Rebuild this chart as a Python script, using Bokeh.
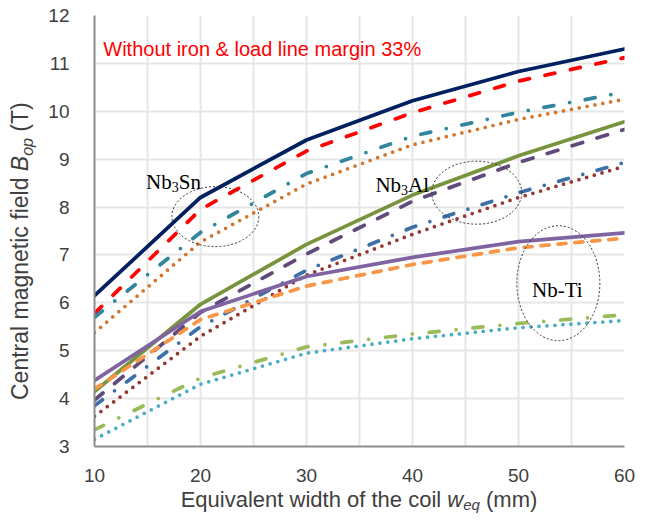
from bokeh.plotting import figure
from bokeh.models import Range1d, FixedTicker, Label, Div
from bokeh.layouts import row, column
from bokeh.embed import file_html
from bokeh.resources import INLINE

# ---------------- data ----------------
width_mm = [10, 20, 30, 40, 50, 60]

nb3sn_1 = [6.15, 8.20, 9.40, 10.22, 10.83, 11.30]
nb3sn_2 = [5.78, 7.95, 9.17, 9.97, 10.63, 11.12]
nb3sn_3 = [5.70, 7.47, 8.70, 9.48, 9.98, 10.40]
nb3sn_4 = [5.38, 7.27, 8.48, 9.30, 9.83, 10.25]

nb3al_1 = [4.15, 5.97, 7.22, 8.25, 9.07, 9.78]
nb3al_2 = [3.97, 5.80, 7.02, 8.12, 8.93, 9.62]
nb3al_3 = [3.85, 5.50, 6.68, 7.58, 8.30, 8.93]
nb3al_4 = [3.63, 5.30, 6.58, 7.43, 8.20, 8.85]

nbti_1 = [4.38, 5.82, 6.55, 6.95, 7.28, 7.46]
nbti_2 = [4.20, 5.65, 6.35, 6.80, 7.15, 7.35]
nbti_3 = [3.35, 4.43, 5.08, 5.35, 5.57, 5.75]
nbti_4 = [3.15, 4.30, 4.95, 5.25, 5.48, 5.63]

x_ticks = [10, 20, 30, 40, 50, 60]
x_minor = [15, 25, 35, 45, 55]
y_ticks = [3, 4, 5, 6, 7, 8, 9, 10, 11, 12]

# ---------------- figure ----------------
SANS = "Liberation Sans"
SERIF = "Liberation Serif"
TXT = "#404040"

p = figure(width=591, height=484, x_range=Range1d(10, 60), y_range=Range1d(3, 12),
           output_backend="svg", toolbar_location=None,
           min_border_left=50, min_border_right=11, min_border_top=15, min_border_bottom=37)
p.outline_line_color = None
p.background_fill_color = "white"
p.border_fill_color = "white"

p.xaxis.ticker = FixedTicker(ticks=x_ticks, minor_ticks=x_minor)
p.yaxis.ticker = FixedTicker(ticks=y_ticks)
for ax in (p.xaxis, p.yaxis):
    ax.axis_line_color = "#8C8C8C"
    ax.axis_line_width = 2
    ax.major_tick_line_color = None
    ax.minor_tick_line_color = None
    ax.major_label_text_font = SANS
    ax.major_label_text_font_size = "19px"
    ax.major_label_text_color = TXT
p.xaxis.major_label_standoff = 16
p.yaxis.major_label_standoff = 19

for g in (p.xgrid, p.ygrid):
    g.grid_line_color = "#E6E6E6"
    g.grid_line_width = 2
p.xgrid.minor_grid_line_color = "#E6E6E6"
p.xgrid.minor_grid_line_width = 2

series = [
    (nb3sn_1, "#002060", "solid"),
    (nb3sn_2, "#FF0000", "10 16"),
    (nb3sn_3, "#31859C", "10 16 0 16"),
    (nb3sn_4, "#D2772F", "0 8"),
    (nb3al_1, "#77933C", "solid"),
    (nb3al_2, "#604A7B", "11 15"),
    (nb3al_3, "#3D6FA8", "10 15 0 15"),
    (nb3al_4, "#953735", "0 8"),
    (nbti_1, "#8064A2", "solid"),
    (nbti_2, "#F79646", "8 9"),
    (nbti_3, "#9BBB59", "10 17 0 17"),
    (nbti_4, "#4BACC6", "0 8"),
]
for vals, col, dash in series:
    p.line(width_mm, vals, line_color=col, line_width=3.75, line_dash=dash,
           line_cap="round", line_join="round")

# ---------------- annotations ----------------
ell_x = [21.4, 46.06, 53.76]
ell_y = [7.80, 8.30, 6.41]
ell_w = [87, 90, 83]
ell_h = [60, 63, 115]
p.ellipse(x=ell_x, y=ell_y, width=ell_w, height=ell_h, width_units="screen",
          height_units="screen", fill_color=None, line_color="#333333",
          line_width=1, line_dash="2 2")


def add_pieces(x, y, pieces, color="black"):
    for text, font, size, dx, dy in pieces:
        p.add_layout(Label(x=x, y=y, text=text, text_font=font, text_font_size=size,
                           x_offset=dx, y_offset=dy, text_align="left",
                           text_baseline="alphabetic", text_color=color))


add_pieces(10.83, 11.31, [("Without iron & load line margin 33%", SANS, "20px", 0, 0)],
           color="#FF0000")
add_pieces(14.86, 8.53, [("Nb", SERIF, "21px", 0, 0),
                         ("3", SERIF, "14px", 25.7, -5),
                         ("Sn", SERIF, "21px", 32.7, 0)])
add_pieces(36.5, 8.47, [("Nb", SERIF, "21px", 0, 0),
                        ("3", SERIF, "14px", 25.7, -5),
                        ("Al", SERIF, "21px", 32.7, 0)])
add_pieces(51.28, 6.26, [("Nb-Ti", SERIF, "21px", 0, 0)])

# ---------------- axis titles (rich text) ----------------
ytitle_html = (
    '<div style="position:relative;width:44px;height:484px;">'
    '<div style="position:absolute;left:7px;top:400px;transform-origin:0 0;'
    'transform:rotate(-90deg);white-space:nowrap;font-family:\'Liberation Sans\';'
    'font-size:23px;line-height:26px;color:#404040;">'
    'Central magnetic field <i>B</i><span style="font-style:italic;font-size:16px;'
    'position:relative;top:5px;">op</span> (T)</div></div>'
)
xtitle_html = (
    '<div style="position:relative;width:635px;height:27px;">'
    '<div style="position:absolute;left:0px;width:718px;top:5px;text-align:center;'
    'white-space:nowrap;font-family:\'Liberation Sans\';font-size:22px;line-height:22px;'
    'color:#404040;">'
    'Equivalent width of the coil <i>w</i><span style="font-style:italic;font-size:15px;'
    'position:relative;top:3px;">eq</span> (mm)</div></div>'
)
ydiv = Div(text=ytitle_html, width=44, height=484, margin=0)
xdiv = Div(text=xtitle_html, width=635, height=27, margin=0)

layout = column(row(ydiv, p, spacing=0), xdiv, spacing=0)

open("out.html", "w").write(file_html(layout, INLINE))
